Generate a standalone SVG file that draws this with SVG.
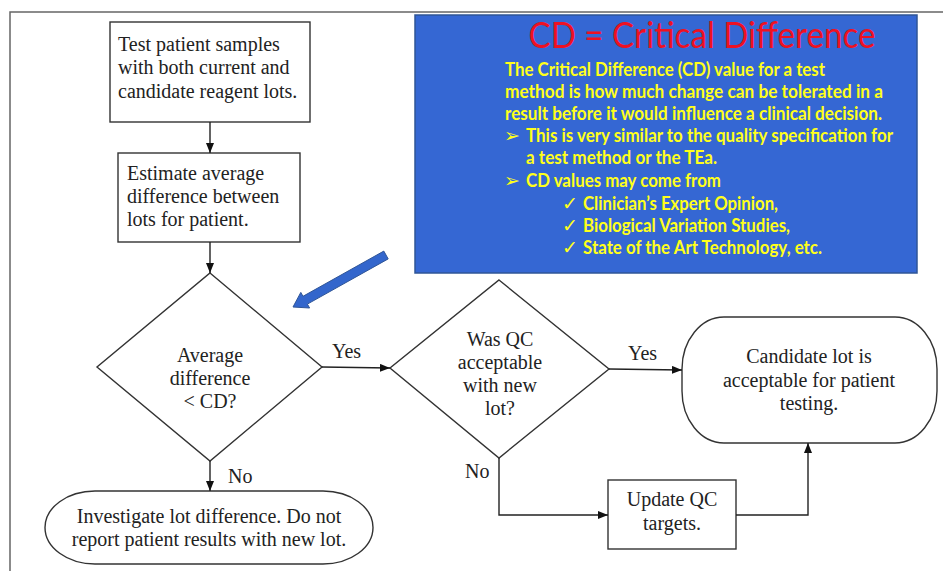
<svg xmlns="http://www.w3.org/2000/svg" width="943" height="571" viewBox="0 0 943 571">
<defs>
<marker id="ah" markerWidth="10" markerHeight="8" refX="10" refY="4" orient="auto" markerUnits="userSpaceOnUse">
<path d="M0,0 L10,4 L0,8 Z" fill="#111"/>
</marker>
<style>
.shape{fill:#fff;stroke:#333;stroke-width:1.4}
.ft{font-family:"Liberation Serif","Times New Roman",serif;font-size:20px;fill:#222}
.mid{text-anchor:middle}
.conn{fill:none;stroke:#222;stroke-width:1.4;marker-end:url(#ah)}
.yt{font-family:Lato,"Open Sans","Liberation Sans",sans-serif;font-size:18px;font-weight:bold;fill:#FFFF1A}
.sym{font-family:"DejaVu Sans",sans-serif;font-size:19px;fill:#FFFF1A}
</style>
</defs>
<rect width="943" height="571" fill="#fff"/>
<path d="M10,571 V12 H943" fill="none" stroke="#666" stroke-width="1.5"/>

<g id="box1">
<rect class="shape" x="110" y="22" width="200" height="100"/>
<text class="ft" x="118" y="51">Test patient samples</text>
<text class="ft" x="118" y="74">with both current and</text>
<text class="ft" x="118" y="98">candidate reagent lots.</text>
</g>

<g id="box2">
<rect class="shape" x="118" y="153" width="182" height="89"/>
<text class="ft" x="127" y="180">Estimate average</text>
<text class="ft" x="127" y="203">difference between</text>
<text class="ft" x="127" y="226">lots for patient.</text>
</g>

<g id="decision1">
<polygon class="shape" points="210,273 322,367 210,461 97,367"/>
<text class="ft mid" x="210" y="362">Average</text>
<text class="ft mid" x="210" y="385">difference</text>
<text class="ft mid" x="210" y="408">&lt; CD?</text>
</g>

<g id="investigate">
<rect class="shape" x="45" y="491" width="328" height="73" rx="50" ry="36.5"/>
<text class="ft mid" x="209" y="523">Investigate lot difference. Do not</text>
<text class="ft mid" x="209" y="546">report patient results with new lot.</text>
</g>

<g id="decision2">
<polygon class="shape" points="499,280 609,369 499,458 390,368"/>
<text class="ft mid" x="500" y="346">Was QC</text>
<text class="ft mid" x="500" y="369">acceptable</text>
<text class="ft mid" x="500" y="392">with new</text>
<text class="ft mid" x="500" y="415">lot?</text>
</g>

<g id="accept">
<rect class="shape" x="682" y="317" width="255" height="126" rx="42" ry="52"/>
<text class="ft mid" x="809" y="363">Candidate lot is</text>
<text class="ft mid" x="809" y="387">acceptable for patient</text>
<text class="ft mid" x="809" y="410">testing.</text>
</g>

<g id="updateqc">
<rect class="shape" x="608" y="480" width="128" height="69"/>
<text class="ft mid" x="672" y="506">Update QC</text>
<text class="ft mid" x="672" y="530">targets.</text>
</g>

<g id="connectors">
<path class="conn" d="M210,122 V153"/>
<path class="conn" d="M210,242 V273"/>
<path class="conn" d="M322,367 L390,368"/>
<path class="conn" d="M210,461 V491"/>
<path class="conn" d="M609,369 L682,370"/>
<path class="conn" d="M499,458 V515 H608"/>
<path class="conn" d="M736,515 H808 V443"/>
<text class="ft" x="332" y="358">Yes</text>
<text class="ft" x="228" y="483">No</text>
<text class="ft" x="628" y="360">Yes</text>
<text class="ft" x="465" y="478">No</text>
</g>

<g id="cd-note">
<rect x="415" y="15" width="502" height="258" fill="#3567D3" stroke="#2F5597" stroke-width="1.5"/>
<text x="702" y="48" text-anchor="middle" font-family="Lato,'Open Sans','Liberation Sans',sans-serif" font-size="36" fill="#EE1122" textLength="347" lengthAdjust="spacingAndGlyphs">CD = Critical Difference</text>
<text class="yt" x="505" y="76" textLength="320" lengthAdjust="spacingAndGlyphs">The Critical Difference (CD) value for a test</text>
<text class="yt" x="505" y="98" textLength="378" lengthAdjust="spacingAndGlyphs">method is how much change can be tolerated in a</text>
<text class="yt" x="505" y="120" textLength="377" lengthAdjust="spacingAndGlyphs">result before it would influence a clinical decision.</text>
<text class="sym" x="504" y="142">➢</text>
<text class="yt" x="526" y="142" textLength="367" lengthAdjust="spacingAndGlyphs">This is very similar to the quality specification for</text>
<text class="yt" x="526" y="164" textLength="191" lengthAdjust="spacingAndGlyphs">a test method or the TEa.</text>
<text class="sym" x="504" y="187">➢</text>
<text class="yt" x="526" y="187" textLength="195" lengthAdjust="spacingAndGlyphs">CD values may come from</text>
<text class="sym" x="562" y="210">✓</text>
<text class="yt" x="583" y="210" textLength="195" lengthAdjust="spacingAndGlyphs">Clinician’s Expert Opinion,</text>
<text class="sym" x="562" y="232">✓</text>
<text class="yt" x="583" y="232" textLength="207" lengthAdjust="spacingAndGlyphs">Biological Variation Studies,</text>
<text class="sym" x="562" y="254">✓</text>
<text class="yt" x="583" y="254" textLength="239" lengthAdjust="spacingAndGlyphs">State of the Art Technology, etc.</text>
</g>

<g id="pointer-arrow">
<polygon points="388.2,258.9 307.4,304.1 309.6,308 293,307 300.8,292.4 303,296.3 383.8,251.1" fill="#3366CC" stroke="#2F5597" stroke-width="1"/>
</g>
</svg>
